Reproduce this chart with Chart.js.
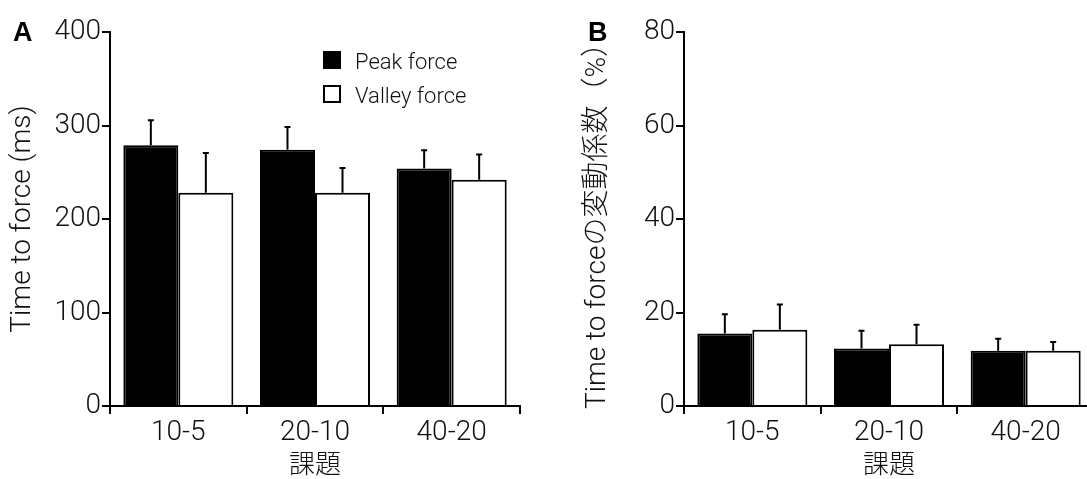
<!DOCTYPE html>
<html>
<head>
<meta charset="utf-8">
<title>Time to force</title>
<script src="https://cdn.jsdelivr.net/npm/chart.js"></script>
<style>
  html, body { margin: 0; padding: 0; background: #fff; overflow: hidden; }
  body { width: 1087px; height: 479px; position: relative; }
  .panel { position: absolute; top: 0; height: 479px; }
  #panelA { left: 0; width: 545px; }
  #panelB { left: 545px; width: 560px; }
</style>
</head>
<body>
<div class="panel" id="panelA"><canvas id="chartA" width="545" height="479"></canvas></div>
<div class="panel" id="panelB"><canvas id="chartB" width="560" height="479"></canvas></div>

<script>
    const tasks = ['10-5', '20-10', '40-20'];

    // A: time to force (ms), mean + SD
    const peakTime = [279, 274, 254];
    const peakTimeSD = [26.5, 24.5, 19.5];
    const valleyTime = [228, 228, 242];
    const valleyTimeSD = [42.5, 26.5, 27];

    // B: coefficient of variation of time to force (%), mean + SD
    const peakCV = [15.5, 12.3, 11.8];
    const peakCVSD = [4.1, 3.8, 2.6];
    const valleyCV = [16.3, 13.2, 11.8];
    const valleyCVSD = [5.4, 4.2, 1.9];

    const yTicksA = [0, 100, 200, 300, 400];
    const yTicksB = [0, 20, 40, 60, 80];

    const FONT = "'Roboto', 'Noto Sans CJK JP', sans-serif";
    Chart.defaults.font.family = FONT;
    Chart.defaults.font.weight = 300;
    Chart.defaults.color = '#111';

    // upward-only SD whiskers on every bar
    const errorBars = {
        id: 'errorBars',
        afterDatasetsDraw(chart) {
            const ctx = chart.ctx;
            const y = chart.scales.y;
            ctx.save();
            ctx.strokeStyle = '#000';
            ctx.lineWidth = 2;
            chart.data.datasets.forEach((ds, i) => {
                chart.getDatasetMeta(i).data.forEach((bar, j) => {
                    const top = y.getPixelForValue(ds.data[j] + ds.sd[j]);
                    ctx.beginPath();
                    ctx.moveTo(bar.x, bar.y);
                    ctx.lineTo(bar.x, top);
                    ctx.moveTo(bar.x - 3, top);
                    ctx.lineTo(bar.x + 3, top);
                    ctx.stroke();
                });
            });
            ctx.restore();
        }
    };

    // panel letter + optional legend inside the plot
    const panelDecor = {
        id: 'panelDecor',
        afterDraw(chart, args, opts) {
            const ctx = chart.ctx;
            ctx.save();
            ctx.fillStyle = '#000';
            ctx.font = "bold 27px 'Liberation Sans', Arial, sans-serif";
            ctx.textBaseline = 'alphabetic';
            ctx.fillText(opts.letter, opts.letterX, 41);

            if (opts.legend) {
                const area = chart.chartArea;
                ctx.font = '300 22px ' + FONT;
                chart.data.datasets.forEach((ds, i) => {
                    const bx = area.left + 213;
                    const by = area.top + 19 + i * 34;
                    ctx.fillStyle = ds.backgroundColor;
                    ctx.fillRect(bx, by, 18, 18);
                    ctx.strokeStyle = '#000';
                    ctx.lineWidth = 2;
                    ctx.strokeRect(bx + 1, by + 1, 16, 16);
                    ctx.fillStyle = '#111';
                    ctx.fillText(ds.label, bx + 32, by + 18);
                });
            }
            ctx.restore();
        }
    };

    function makeChart(id, peak, peakSD, valley, valleySD, yMax, yStep, yTitle, yWidth, titlePad, padRight, decor) {
        const ctx = document.getElementById(id).getContext('2d');
        return new Chart(ctx, {
            type: 'bar',
            data: {
                labels: tasks,
                datasets: [
                    {
                        label: 'Peak force',
                        data: peak,
                        sd: peakSD,
                        backgroundColor: '#000',
                        borderColor: '#000',
                        borderWidth: 2,
                        categoryPercentage: 0.805,
                        barPercentage: 1.0
                    },
                    {
                        label: 'Valley force',
                        data: valley,
                        sd: valleySD,
                        backgroundColor: '#fff',
                        borderColor: '#000',
                        borderWidth: 2,
                        categoryPercentage: 0.805,
                        barPercentage: 1.0
                    }
                ]
            },
            options: {
                responsive: false,
                animation: false,
                layout: { padding: { top: 32, right: padRight, bottom: 0, left: 0 } },
                plugins: {
                    legend: { display: false },
                    tooltip: { enabled: false },
                    panelDecor: decor
                },
                scales: {
                    x: {
                        offset: true,
                        grid: { offset: true, drawOnChartArea: false, color: '#000', lineWidth: 2, tickLength: 8 },
                        border: { color: '#000', width: 2, z: 1 },
                        ticks: { font: { size: 28 }, padding: 2, color: '#111' },
                        title: { display: true, text: '課題', font: { size: 26, lineHeight: 1 }, padding: { top: 0, bottom: 0 }, color: '#111' },
                        afterFit: s => { s.height = 73; }
                    },
                    y: {
                        min: 0,
                        max: yMax,
                        ticks: { stepSize: yStep, font: { size: 28 }, padding: 1, color: '#111' },
                        grid: { drawOnChartArea: false, color: '#000', lineWidth: 2, tickLength: 8 },
                        border: { color: '#000', width: 2, z: 1 },
                        title: { display: true, text: yTitle, font: { size: 28 }, padding: { top: titlePad, bottom: 0 }, color: '#111' },
                        afterFit: s => { s.width = yWidth; }
                    }
                }
            },
            plugins: [errorBars, panelDecor]
        });
    }

    makeChart('chartA', peakTime, peakTimeSD, valleyTime, valleyTimeSD,
        yTicksA[yTicksA.length - 1], yTicksA[1] - yTicksA[0],
        'Time to force (ms)', 110, 6, 25,
        { letter: 'A', letterX: 13, legend: true });

    makeChart('chartB', peakCV, peakCVSD, valleyCV, valleyCVSD,
        yTicksB[yTicksB.length - 1], yTicksB[1] - yTicksB[0],
        'Time to forceの変動係数（%）', 139, 36, 11,
        { letter: 'B', letterX: 43, legend: false });
</script>
</body>
</html>
